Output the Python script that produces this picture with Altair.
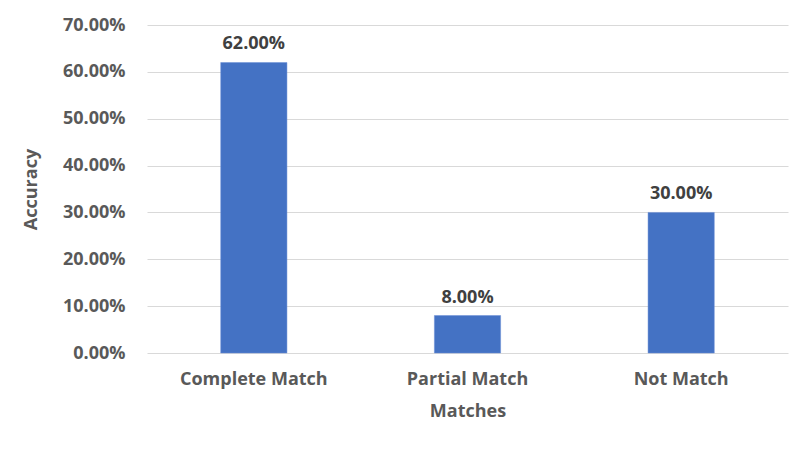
import altair as alt
import pandas as pd

categories = ["Complete Match", "Partial Match", "Not Match"]
accuracy = [0.62, 0.08, 0.30]
y_ticks = [0, 0.1, 0.2, 0.3, 0.4, 0.5, 0.6, 0.7]

df = pd.DataFrame({"Matches": categories, "Accuracy": accuracy})

FONT = "Open Sans"

base = alt.Chart(df).encode(
    x=alt.X("Matches:N", sort=categories,
            scale=alt.Scale(paddingInner=0.69, paddingOuter=0.345),
            axis=alt.Axis(title="Matches", labelAngle=0, domain=False, ticks=False,
                          labelPadding=17, titlePadding=14, labelFontSize=18,
                          titleFontSize=18, labelFont=FONT, titleFont=FONT,
                          labelFontWeight="bold", titleFontWeight="bold",
                          labelColor="#595959", titleColor="#595959")),
    y=alt.Y("Accuracy:Q", scale=alt.Scale(domain=[0, 0.7], nice=False),
            axis=alt.Axis(title="Accuracy", format=".2%", values=y_ticks,
                          domain=False, ticks=False, labelPadding=22,
                          titlePadding=22, gridColor="#d9d9d9", gridWidth=1,
                          labelFontSize=18, titleFontSize=18, labelFont=FONT,
                          titleFont=FONT, labelFontWeight="bold",
                          titleFontWeight="bold", labelColor="#595959",
                          titleColor="#595959")),
)

bars = base.mark_bar(color="#4472C4", stroke="#6a8fd6", strokeWidth=0.5)
labels = base.mark_text(baseline="bottom", dy=-9, font=FONT, fontSize=18,
                        fontWeight="bold", color="#404040").encode(
    text=alt.Text("Accuracy:Q", format=".2%"))

chart = (bars + labels).properties(
    width=641, height=328,
    autosize=alt.AutoSizeParams(type="none"),
    padding={"left": 139, "top": 17, "right": 16, "bottom": 91},
).configure_view(stroke=None)

chart.save("out.html", embed_options={"renderer": "svg", "actions": False})
